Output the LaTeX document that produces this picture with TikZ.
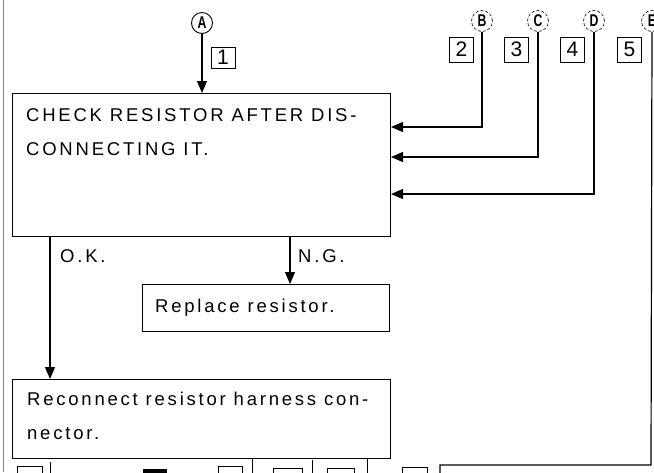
\documentclass[tikz,border=0pt]{standalone}
\usepackage{fontspec}
\usetikzlibrary{arrows.meta}
\newfontfamily\txtfont{Liberation Sans}[LetterSpace=15]
\newfontfamily\plainfont{Liberation Sans}
\newfontfamily\circfont{Liberation Sans Bold}[FakeStretch=0.72]
\begin{document}
\begin{tikzpicture}[x=1pt,y=-1pt,
  box/.style={draw, line width=1pt, inner sep=0pt, anchor=north west},
  lbl/.style={anchor=base west, inner sep=0pt, font=\txtfont\fontsize{18.5}{18.5}\selectfont},
  numbox/.style={draw, line width=0.9pt, inner sep=0pt, minimum width=24pt, minimum height=23pt, font=\plainfont\fontsize{21}{21}\selectfont},
  circ/.style={circle, draw, line width=0.9pt, minimum size=21pt, inner sep=0pt, font=\circfont\fontsize{17}{17}\selectfont},
  dcirc/.style={circ, line width=0.6pt, densely dashed},
  conn/.style={line width=1.2pt},
  arr/.style={conn, -{Triangle[length=12pt,width=10pt]}},
  frag/.style={line width=1pt}]
\useasboundingbox (0,0) rectangle (654,472);
\begin{scope}
\clip (0,0) rectangle (654,472);
% left margin rule
\draw[gray, line width=0.8pt] (3,0) -- (3,472);

% boxes
\node[box, minimum width=378pt, minimum height=143pt] (chk) at (12,93) {};
\node[box, minimum width=247pt, minimum height=47pt] (rep) at (142,284) {};
\node[box, minimum width=378pt, minimum height=79pt] (rec) at (12,379) {};

% texts
\node[lbl] (t1) at (26,121) {CHECK RESISTOR AFTER DIS-};
\node[lbl] (t2) at (26,155) {CONNECTING IT.};
\node[lbl] (t3) at (155,312) {Replace resistor.};
\node[lbl] (t4) at (27,405) {Reconnect resistor harness con-};
\node[lbl] (t5) at (27,439) {nector.};
\node[lbl] (ok) at (60,262) {O.K.};
\node[lbl] (ng) at (298,262) {N.G.};

% circles
\node[circ] (A) at (202,23) {A};
\node[dcirc] (B) at (482,21) {B};
\node[dcirc] (C) at (538,21) {C};
\node[dcirc] (D) at (594,21) {D};
\node[dcirc] (E) at (652,21) {E};

% number boxes
\node[numbox, minimum height=21pt] (n1) at (223,57.5) {1};
\node[numbox, minimum height=25pt] (n2) at (461.5,49.5) {2};
\node[numbox, minimum height=25pt] (n3) at (516.5,49.5) {3};
\node[numbox, minimum height=25pt] (n4) at (572.5,49.5) {4};
\node[numbox, minimum height=25pt] (n5) at (629.5,49.5) {5};

% connectors
\draw[arr] (A.south) -- (A.south |- chk.north);
\draw[arr] (B.south) |- ([yshift=-34pt]chk.north east);
\draw[arr] (C.south) |- ([yshift=-64pt]chk.north east);
\draw[arr] (D.south) |- ([yshift=-101pt]chk.north east);
\coordinate (okc) at ([xshift=38pt]chk.south west);
\draw[arr] (okc) -- (okc |- rec.north);
\coordinate (ngc) at ([xshift=278pt]chk.south west);
\draw[arr] (ngc) -- (ngc |- rep.north);
\coordinate (Ecorner) at (651,465);
\coordinate (Eend) at (440,476);
\draw[conn] (E.south) -- (Ecorner) -| (Eend);

% fragments of the next chart at the bottom edge
\draw[frag] (17,480) rectangle (42,466);
\draw[frag] (50,462) -- (50,476);
\fill (143,469) rectangle (167,476);
\draw[frag] (218,480) rectangle (242,466);
\draw[frag] (252,458) -- (252,476);
\draw[frag] (273,480) rectangle (302,468);
\draw[frag] (312,460) -- (312,476);
\draw[frag] (327,480) rectangle (354,468);
\draw[frag] (367,458) -- (367,476);
\draw[frag] (402,480) rectangle (427,467);
\end{scope}
\end{tikzpicture}
\end{document}
